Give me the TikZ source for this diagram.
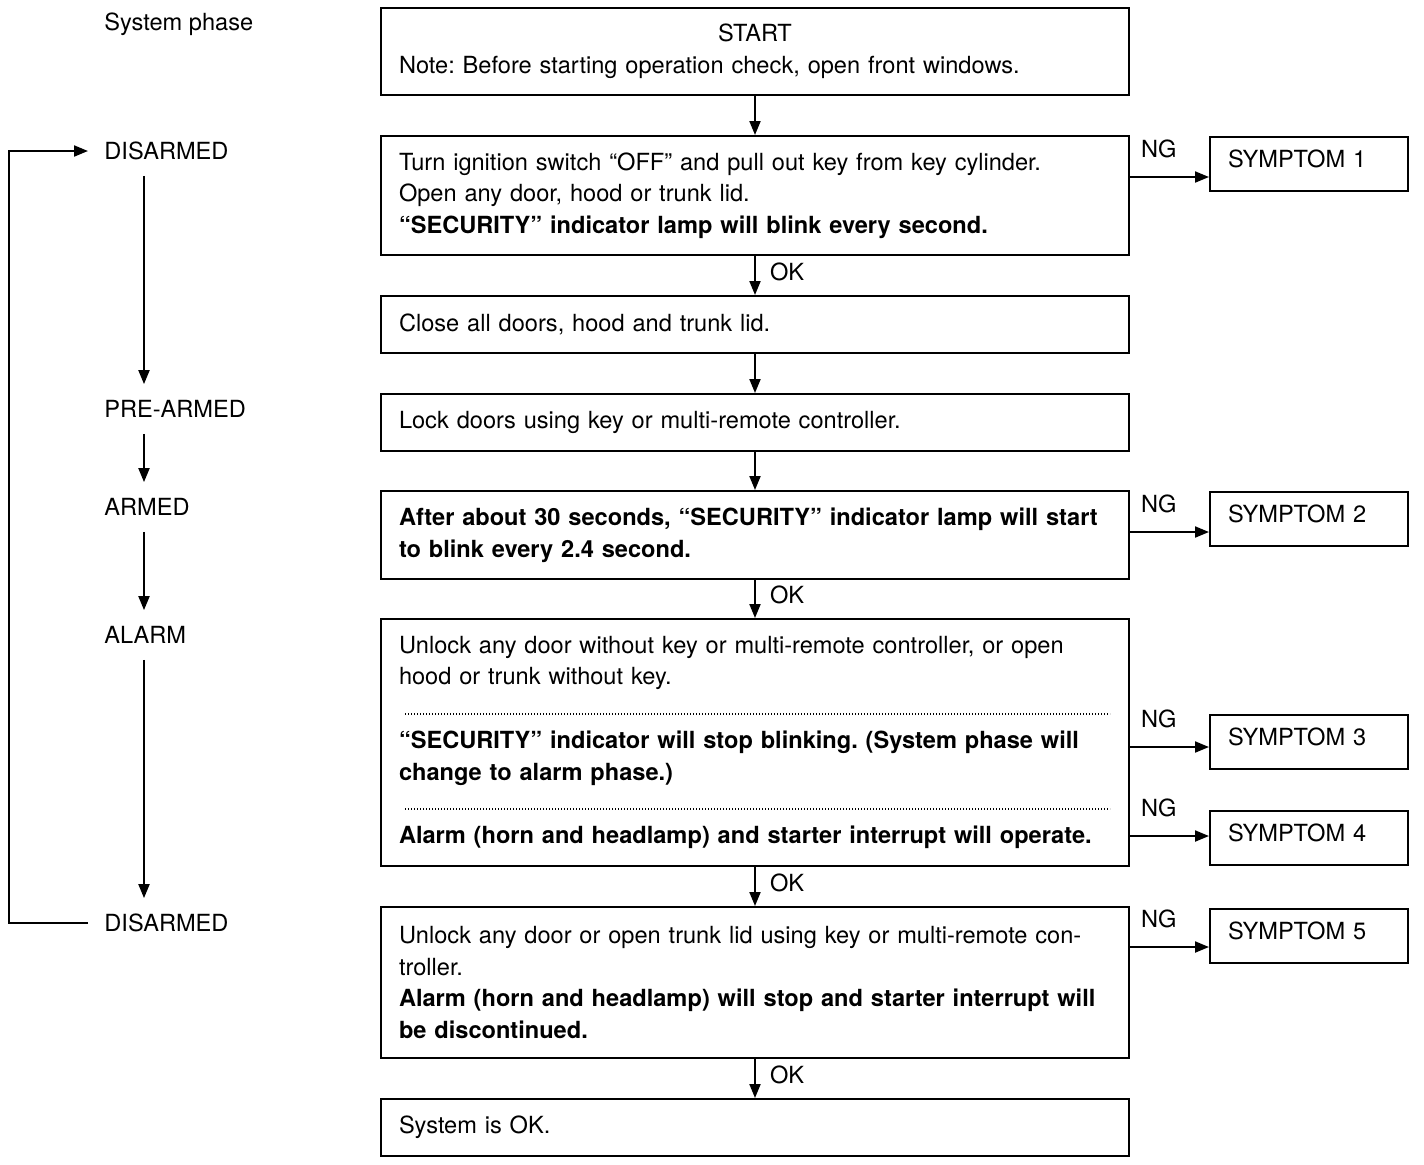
\documentclass[tikz,border=0pt]{standalone}
\usepackage{fontspec}
\setmainfont{TeX Gyre Heros}
\usetikzlibrary{arrows.meta, positioning}

\begin{document}
\frenchspacing
\begin{tikzpicture}[x=0.5pt, y=-0.5pt,
  font=\fontsize{11.8}{15.8}\selectfont,
  stepbox/.style={draw, line width=1pt, minimum width=374pt, text width=356pt, inner xsep=9pt, align=left, anchor=north},
  symbox/.style={draw, line width=1pt, minimum width=99pt, minimum height=27pt, text width=81pt, inner xsep=9pt, align=left, anchor=north west, text height=8.5pt, text depth=5pt},
  phase/.style={anchor=west, inner sep=0pt, text height=8.5pt, text depth=0pt},
  arr/.style={-{Triangle[length=7pt,width=5.5pt]}, line width=1pt},
  ok/.style={anchor=west, inner sep=0pt, xshift=7pt, yshift=2pt},
  ng/.style={anchor=south west, inner sep=0pt, xshift=5pt, yshift=9pt},
  dots/.style={line width=0.7pt, dash pattern=on 0.7pt off 0.8pt}]
\useasboundingbox (0,0) rectangle (1424,1164);

% Middle: check steps
\node[stepbox, minimum height=43.5pt] (start) at (755,7) {\makebox[\hsize]{START}\\
  Note: Before starting operation check, open front windows.};
\node[stepbox, minimum height=59.5pt, below=19.5pt of start] (ign) {Turn ignition switch “OFF” and pull out key from key cylinder.\\
  Open any door, hood or trunk lid.\\
  \textbf{“SECURITY” indicator lamp will blink every second.}};
\node[stepbox, minimum height=28.5pt, below=19.5pt of ign] (close) {Close all doors, hood and trunk lid.};
\node[stepbox, minimum height=28.5pt, below=19.5pt of close] (lock) {Lock doors using key or multi-remote controller.};
\node[stepbox, minimum height=44pt, below=19pt of lock] (wait) {\textbf{After about 30 seconds, “SECURITY” indicator lamp will start}\\
  \textbf{to blink every 2.4 second.}};
\node[stepbox, minimum height=123.5pt, below=19pt of wait] (unlock) {Unlock any door without key or multi-remote controller, or open\\
  hood or trunk without key.\\[16pt]
  \textbf{“SECURITY” indicator will stop blinking. (System phase will}\\
  \textbf{change to alarm phase.)}\\[16pt]
  \textbf{Alarm (horn and headlamp) and starter interrupt will operate.}};
\node[stepbox, minimum height=75.5pt, below=19.5pt of unlock] (key) {Unlock any door or open trunk lid using key or multi-remote con-\\
  troller.\\
  \textbf{Alarm (horn and headlamp) will stop and starter interrupt will}\\
  \textbf{be discontinued.}};
\node[stepbox, minimum height=28.5pt, below=19.5pt of key] (sysok) {System is OK.};

% Dotted separators
\draw[dots] (405,714) -- (1110,714);
\draw[dots] (405,809) -- (1110,809);

\draw[arr] (start) -- (ign);
\draw[arr] (ign) -- (close) node[midway, ok] {OK};
\draw[arr] (close) -- (lock);
\draw[arr] (lock) -- (wait);
\draw[arr] (wait) -- (unlock) node[midway, ok] {OK};
\draw[arr] (unlock) -- (key) node[midway, ok] {OK};
\draw[arr] (key) -- (sysok) node[midway, ok] {OK};

% Right: symptoms
\node[symbox] (sym1) at (1209,136) {SYMPTOM 1};
\node[symbox] (sym2) at (1209,491) {SYMPTOM 2};
\node[symbox] (sym3) at (1209,714) {SYMPTOM 3};
\node[symbox] (sym4) at (1209,810) {SYMPTOM 4};
\node[symbox] (sym5) at (1209,908) {SYMPTOM 5};

\draw[arr] (ign.east |- 0,177) -- (sym1.west |- 0,177) node[pos=0, ng] {NG};
\draw[arr] (wait.east |- 0,532) -- (sym2.west |- 0,532) node[pos=0, ng] {NG};
\draw[arr] (unlock.east |- 0,747) -- (sym3.west |- 0,747) node[pos=0, ng] {NG};
\draw[arr] (unlock.east |- 0,836) -- (sym4.west |- 0,836) node[pos=0, ng] {NG};
\draw[arr] (key.east |- 0,947) -- (sym5.west |- 0,947) node[pos=0, ng] {NG};

% Left: system phase
\node[phase] (sysph) at (104,22) {System phase};
\node[phase] (dis1) at (104,151) {DISARMED};
\node[phase] (pre) at (104,409) {PRE-ARMED};
\node[phase] (armed) at (104,507) {ARMED};
\node[phase] (alarm) at (104,635) {ALARM};
\node[phase] (dis2) at (104,923) {DISARMED};

\draw[arr, shorten <=8pt, shorten >=8pt] ([xshift=20pt]dis1.south west) -- ([xshift=20pt]pre.north west);
\draw[arr, shorten <=8pt, shorten >=8pt] ([xshift=20pt]pre.south west) -- ([xshift=20pt]armed.north west);
\draw[arr, shorten <=8pt, shorten >=8pt] ([xshift=20pt]armed.south west) -- ([xshift=20pt]alarm.north west);
\draw[arr, shorten <=8pt, shorten >=8pt] ([xshift=20pt]alarm.south west) -- ([xshift=20pt]dis2.north west);
\draw[arr] ([xshift=-8pt]dis2.west) -| (9,151) -- ([xshift=-8pt]dis1.west);

\end{tikzpicture}
\end{document}
